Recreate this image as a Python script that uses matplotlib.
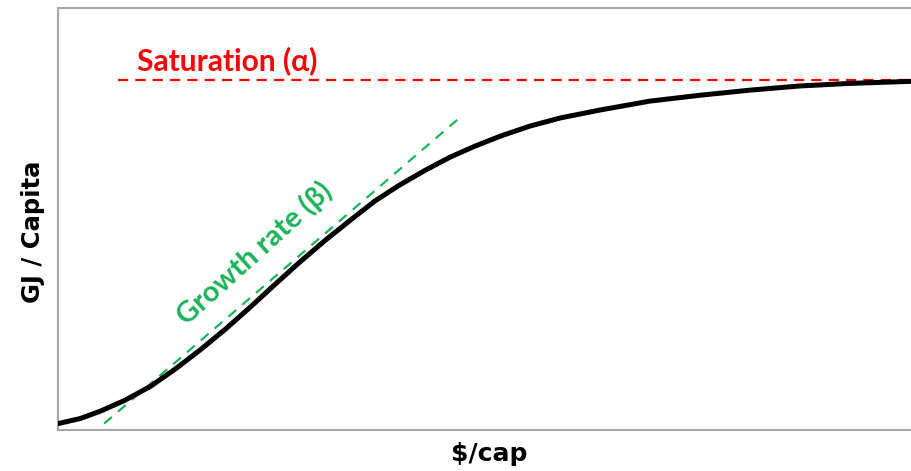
import matplotlib
matplotlib.use('Agg')
import matplotlib.pyplot as plt

# Values (x: $/cap, y: GJ/capita, both on a 0-100 scale)
income = [0, 2.6, 4.9, 7.8, 10.8, 13.7, 16.6, 19.6, 22.5, 25.4, 28.3, 31.3, 34.2,
          37.1, 40.0, 43.0, 45.9, 48.8, 51.8, 55.3, 58.8, 63.5, 69.3, 75.2, 81.0,
          86.9, 92.7, 100]
energy = [1.4, 2.6, 4.3, 6.9, 10.2, 14.3, 18.8, 23.8, 29.0, 34.4, 39.7, 44.9, 49.6,
          54.2, 58.0, 61.5, 64.6, 67.2, 69.6, 72.0, 73.9, 75.8, 77.9, 79.3, 80.5,
          81.5, 82.1, 82.6]

saturation_level = 82.8
saturation_x = [7.0, 100]
growth_x = [5.4, 47.4]
growth_y = [1.4, 74.6]

fig = plt.figure(figsize=(9.12, 4.71), dpi=100)
ax = fig.add_axes([0.0636, 0.0881, 0.9364, 0.895])

ax.plot(income, energy, color='black', linewidth=3.6, solid_capstyle='round',
        solid_joinstyle='round', zorder=3)
ax.plot(saturation_x, [saturation_level, saturation_level], color='#ff0000',
        linewidth=1.6, dashes=(4.6, 3.2), zorder=2)
ax.plot(growth_x, growth_y, color='#1db35a', linewidth=1.6, dashes=(4.6, 3.6), zorder=2)

ax.text(9.2, 87.5, 'Saturation (α)', color='#ff0000', fontsize=21.5, fontweight='bold',
        family=['Lato', 'DejaVu Sans'], ha='left', va='center')
ax.text(23.0, 41.8, 'Growth rate (β)', color='#1db35a', fontsize=21, fontweight='bold',
        family=['Lato', 'DejaVu Sans'], rotation=42, rotation_mode='anchor',
        ha='center', va='center')

ax.set_xlim(0, 100)
ax.set_ylim(0, 100)
ax.set_xticks([])
ax.set_yticks([])
ax.spines['right'].set_visible(False)
for side in ['left', 'bottom', 'top']:
    ax.spines[side].set_color('#a6a6a6')
    ax.spines[side].set_linewidth(1.5)

fig.text(489 / 912, 1 - 454 / 471, '$/cap', fontsize=18, fontweight='bold',
         ha='center', va='center')
fig.text(33 / 912, 1 - 232 / 471, 'GJ / Capita', fontsize=17.5, fontweight='bold',
         rotation=90, ha='center', va='center')

fig.savefig('out.png', dpi=100)
